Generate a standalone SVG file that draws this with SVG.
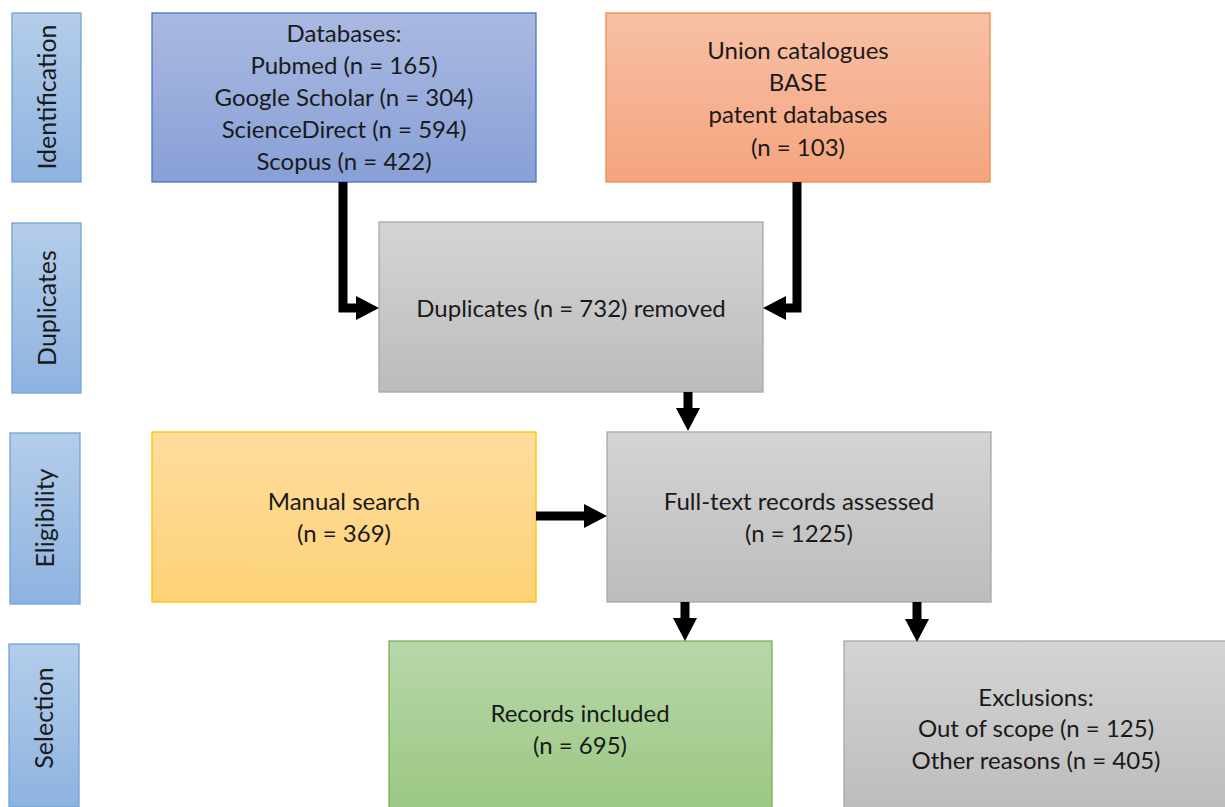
<svg xmlns="http://www.w3.org/2000/svg" width="1225" height="807" viewBox="0 0 1225 807">
<defs>
<linearGradient id="gSide" x1="0" y1="0" x2="0" y2="1"><stop offset="0" stop-color="#b4cdea"/><stop offset="1" stop-color="#8eb3e0"/></linearGradient>
<linearGradient id="gBlue" x1="0" y1="0" x2="0" y2="1"><stop offset="0" stop-color="#aab9e1"/><stop offset="1" stop-color="#88a0d7"/></linearGradient>
<linearGradient id="gOrange" x1="0" y1="0" x2="0" y2="1"><stop offset="0" stop-color="#f7c0a6"/><stop offset="1" stop-color="#f5a47e"/></linearGradient>
<linearGradient id="gGrey" x1="0" y1="0" x2="0" y2="1"><stop offset="0" stop-color="#d4d4d4"/><stop offset="1" stop-color="#bcbcbc"/></linearGradient>
<linearGradient id="gYellow" x1="0" y1="0" x2="0" y2="1"><stop offset="0" stop-color="#fedc9d"/><stop offset="1" stop-color="#fdd277"/></linearGradient>
<linearGradient id="gGreen" x1="0" y1="0" x2="0" y2="1"><stop offset="0" stop-color="#b7d7a9"/><stop offset="1" stop-color="#9cc783"/></linearGradient>
<marker id="ah" viewBox="0 -12 23 24" refX="0" refY="0" markerWidth="23" markerHeight="24" markerUnits="userSpaceOnUse" orient="auto">
<path d="M0,-12 L23,0 L0,12 z" fill="#000"/>
</marker>
</defs>
<style>
text{font-family:Lato,"Open Sans","Liberation Sans",sans-serif;font-size:24px;fill:#1a1a1a;text-anchor:middle}
.vt{font-size:25px}
.side{stroke:#6fa3d8;stroke-width:1.3;fill:url(#gSide)}
.blue{stroke:#4a74c4;stroke-width:1.3;fill:url(#gBlue)}
.orange{stroke:#ef8a4c;stroke-width:1.3;fill:url(#gOrange)}
.grey{stroke:#a8a8a8;stroke-width:1.3;fill:url(#gGrey)}
.yellow{stroke:#ffc000;stroke-width:1.3;fill:url(#gYellow)}
.green{stroke:#78b155;stroke-width:1.3;fill:url(#gGreen)}
.conn{fill:none;stroke:#000;stroke-width:9;stroke-linejoin:miter;marker-end:url(#ah)}
</style>
<rect width="1225" height="807" fill="#fff"/>
<g id="side-identification"><rect class="side" x="12" y="13" width="69" height="169"/><text class="vt" transform="translate(56,97) rotate(-90)">Identification</text></g>
<g id="side-duplicates"><rect class="side" x="12" y="223" width="69" height="170"/><text class="vt" transform="translate(56,308) rotate(-90)">Duplicates</text></g>
<g id="side-eligibility"><rect class="side" x="10" y="433" width="70" height="171"/><text class="vt" transform="translate(54,518) rotate(-90)">Eligibility</text></g>
<g id="side-selection"><rect class="side" x="9" y="644" width="70" height="163"/><text class="vt" transform="translate(53,718) rotate(-90)">Selection</text></g>

<g id="databases"><rect class="blue" x="152" y="13" width="384" height="169"/>
<text x="344" y="42">Databases:</text><text x="344" y="74">Pubmed (n = 165)</text><text x="344" y="106">Google Scholar (n = 304)</text><text x="344" y="138">ScienceDirect (n = 594)</text><text x="344" y="170">Scopus (n = 422)</text></g>
<g id="union"><rect class="orange" x="606" y="13" width="384" height="169"/>
<text x="798" y="59">Union catalogues</text><text x="798" y="91">BASE</text><text x="798" y="123">patent databases</text><text x="798" y="156">(n = 103)</text></g>
<g id="duplicates"><rect class="grey" x="379" y="222" width="384" height="170"/><text x="571" y="317">Duplicates (n = 732) removed</text></g>
<g id="manual"><rect class="yellow" x="152" y="432" width="384" height="170"/><text x="344" y="510">Manual search</text><text x="344" y="542">(n = 369)</text></g>
<g id="fulltext"><rect class="grey" x="607" y="432" width="384" height="170"/><text x="799" y="510">Full-text records assessed</text><text x="799" y="542">(n = 1225)</text></g>
<g id="included"><rect class="green" x="389" y="641" width="383" height="170"/><text x="580" y="722">Records included</text><text x="580" y="754">(n = 695)</text></g>
<g id="exclusions"><rect class="grey" x="844" y="641" width="385" height="170"/><text x="1036" y="706">Exclusions:</text><text x="1036" y="737">Out of scope (n = 125)</text><text x="1036" y="769">Other reasons (n = 405)</text></g>

<g id="connectors">
<path class="conn" d="M343,182 V308 H356"/>
<path class="conn" d="M797,182 V308 H786"/>
<path class="conn" d="M688,392 V408"/>
<path class="conn" d="M536,516 H584"/>
<path class="conn" d="M685,602 V618"/>
<path class="conn" d="M917,602 V619"/>
</g>
</svg>
